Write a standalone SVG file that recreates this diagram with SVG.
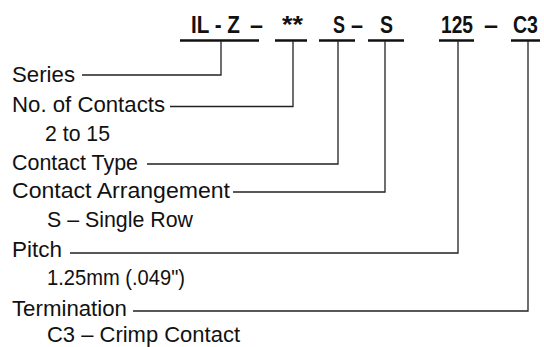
<svg xmlns="http://www.w3.org/2000/svg" width="544" height="347" viewBox="0 0 544 347">
<style>
.hd{font-family:"Liberation Sans",Arial,sans-serif;font-weight:bold;font-size:23px;fill:#111}
.lb{font-family:"Liberation Sans",Arial,sans-serif;font-size:22.5px;fill:#111}
.ul{stroke:#111;stroke-width:2.6;fill:none}
.cn{stroke:#222;stroke-width:1.3;fill:none}
</style>
<rect width="544" height="347" fill="#fff"/>
<g id="header">
<text class="hd" x="191" y="33" textLength="49" lengthAdjust="spacingAndGlyphs">IL - Z</text>
<text class="hd" x="250" y="33" textLength="13" lengthAdjust="spacingAndGlyphs">–</text>
<text class="hd" x="282" y="33" textLength="21" lengthAdjust="spacingAndGlyphs">**</text>
<text class="hd" x="333" y="33" textLength="12" lengthAdjust="spacingAndGlyphs">S</text>
<text class="hd" x="351" y="33" textLength="12" lengthAdjust="spacingAndGlyphs">–</text>
<text class="hd" x="380" y="33" textLength="13" lengthAdjust="spacingAndGlyphs">S</text>
<text class="hd" x="441" y="33" textLength="32" lengthAdjust="spacingAndGlyphs">125</text>
<text class="hd" x="484" y="33" textLength="14" lengthAdjust="spacingAndGlyphs">–</text>
<text class="hd" x="513" y="33" textLength="25" lengthAdjust="spacingAndGlyphs">C3</text>
<path class="ul" d="M180 40.5H259M275 40.5H307M319 40.5H355M368 40.5H404M439 40.5H474M511 40.5H540"/>
</g>
<g id="series"><text class="lb" x="12" y="82" textLength="63" lengthAdjust="spacingAndGlyphs">Series</text></g>
<g id="contacts">
<text class="lb" x="12" y="112" textLength="153" lengthAdjust="spacingAndGlyphs">No. of Contacts</text>
<text class="lb" x="45" y="141" textLength="65" lengthAdjust="spacingAndGlyphs">2 to 15</text>
</g>
<g id="contact-type"><text class="lb" x="12" y="170" textLength="126" lengthAdjust="spacingAndGlyphs">Contact Type</text></g>
<g id="arrangement">
<text class="lb" x="12" y="198" textLength="218" lengthAdjust="spacingAndGlyphs">Contact Arrangement</text>
<text class="lb" x="47" y="227" textLength="146" lengthAdjust="spacingAndGlyphs">S – Single Row</text>
</g>
<g id="pitch">
<text class="lb" x="12" y="257" textLength="50" lengthAdjust="spacingAndGlyphs">Pitch</text>
<text class="lb" x="47" y="285" textLength="138" lengthAdjust="spacingAndGlyphs">1.25mm (.049")</text>
</g>
<g id="termination">
<text class="lb" x="12" y="316" textLength="115" lengthAdjust="spacingAndGlyphs">Termination</text>
<text class="lb" x="47" y="342" textLength="193" lengthAdjust="spacingAndGlyphs">C3 – Crimp Contact</text>
</g>
<g id="connectors">
<path class="cn" d="M221 41V75H82"/>
<path class="cn" d="M293 41V106.5H170"/>
<path class="cn" d="M338 41V164H147"/>
<path class="cn" d="M385 41V192H233"/>
<path class="cn" d="M458 41V253H70"/>
<path class="cn" d="M528 41V311H133"/>
</g>
</svg>
